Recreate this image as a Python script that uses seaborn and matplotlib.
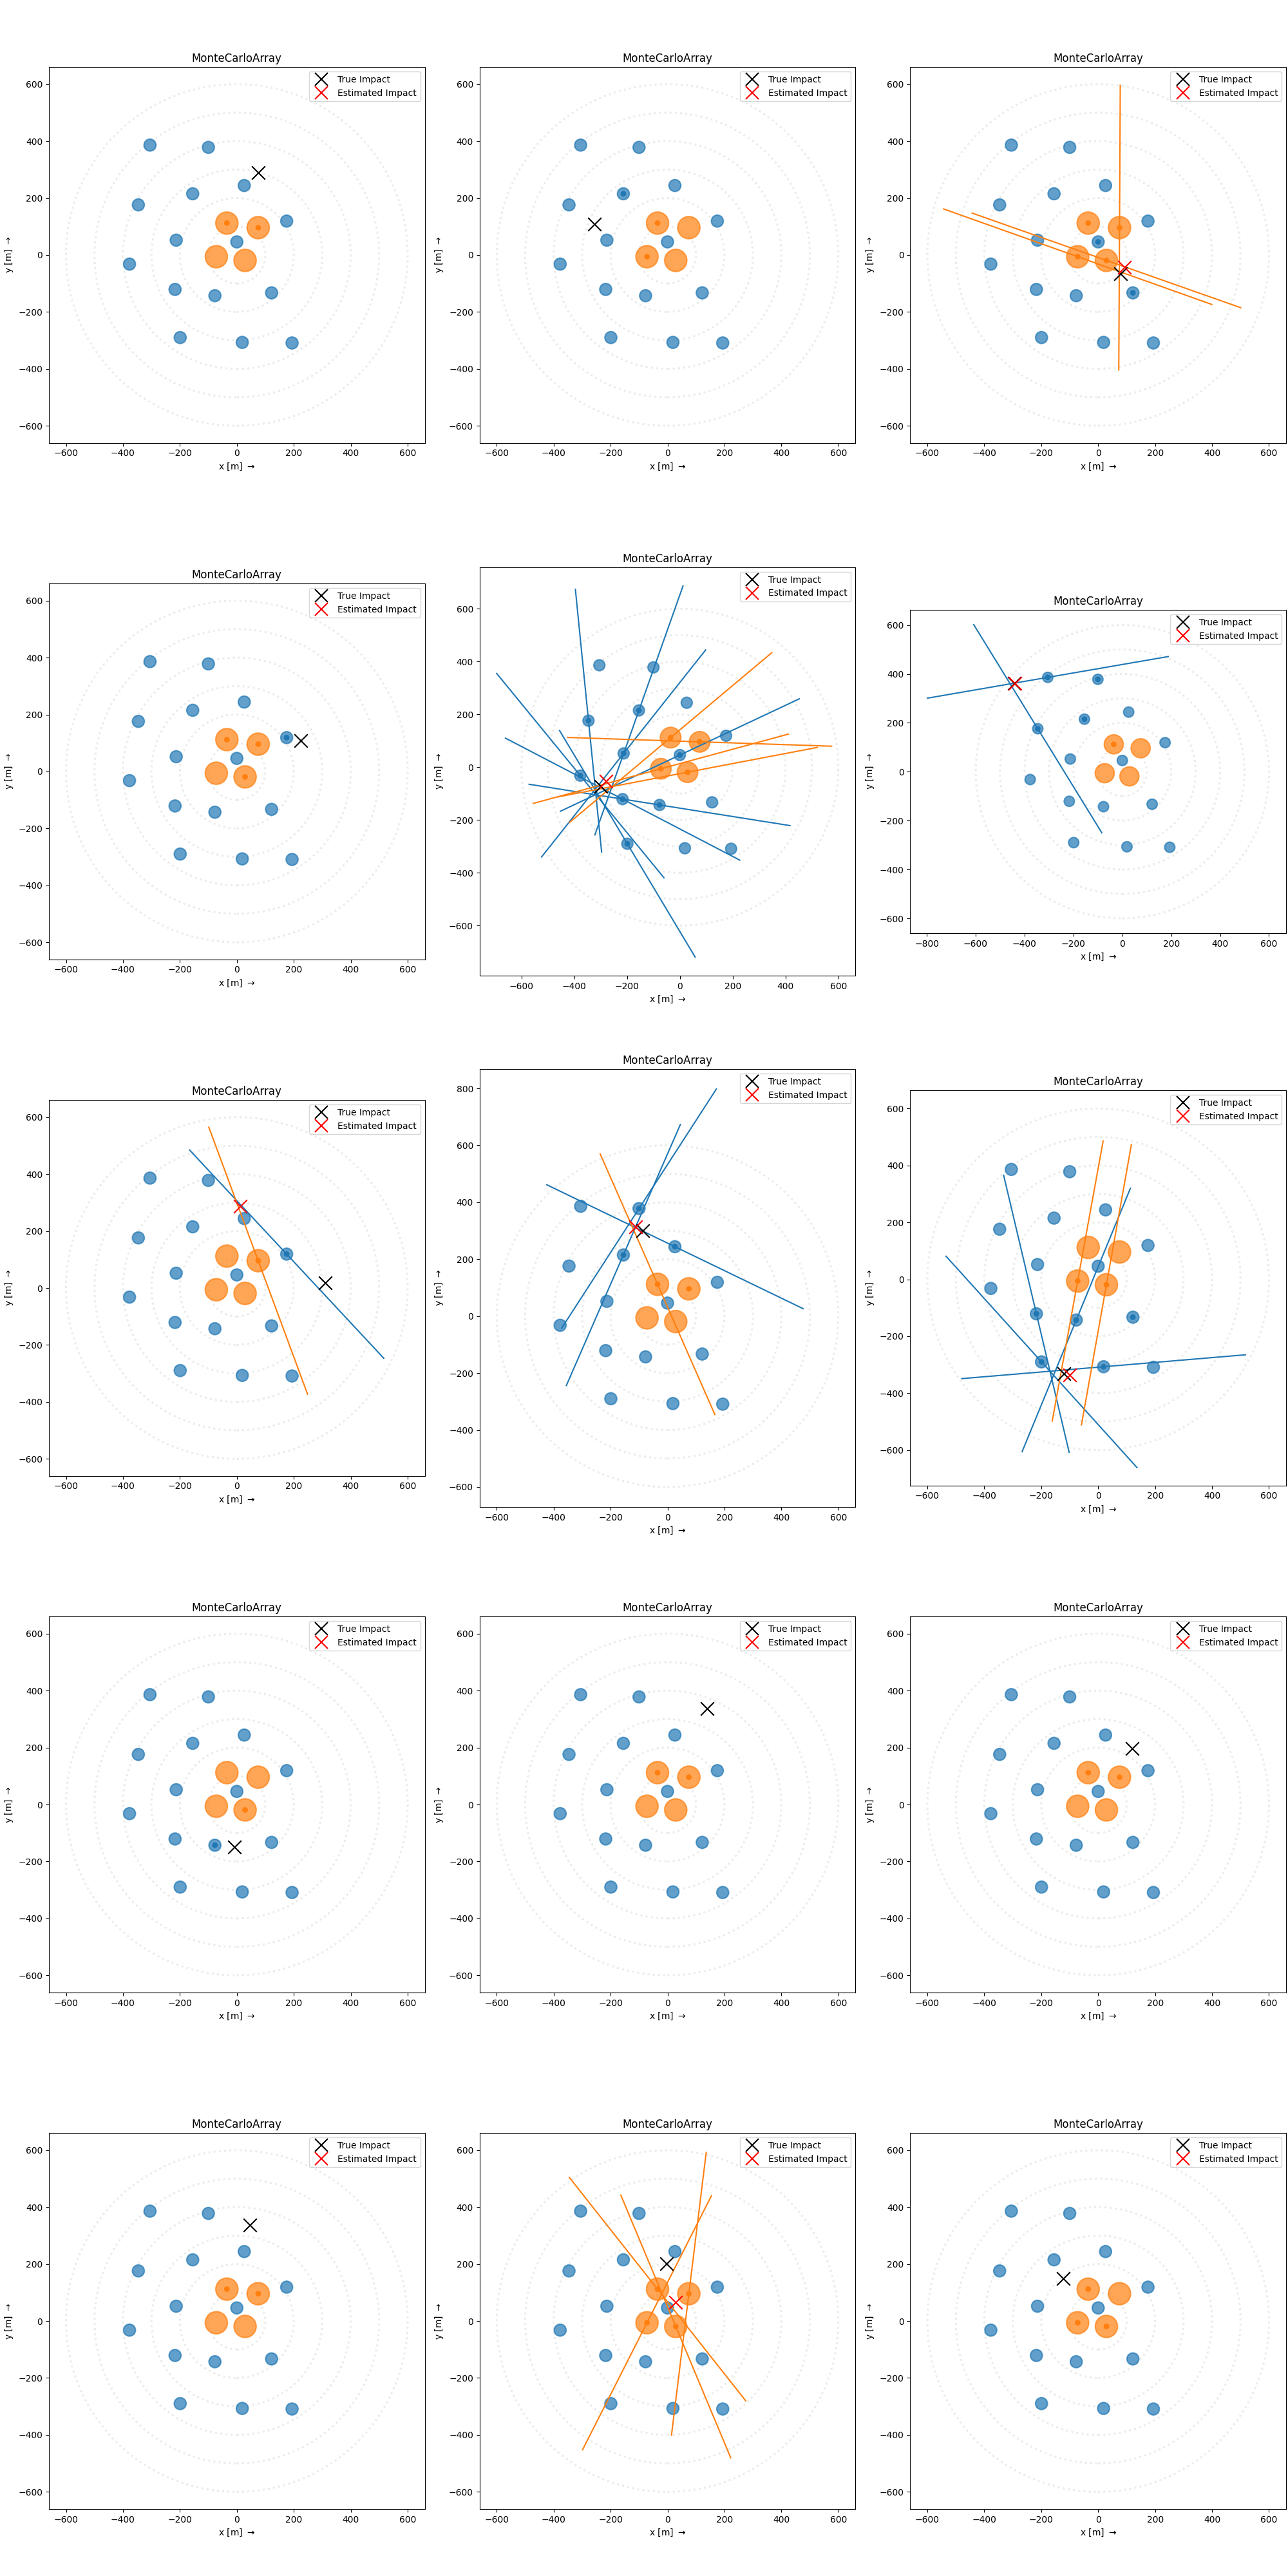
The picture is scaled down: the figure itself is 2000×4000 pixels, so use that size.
import numpy as np
import pandas as pd
import matplotlib
matplotlib.use("Agg")
import matplotlib.pyplot as plt
from matplotlib.patches import Circle
from matplotlib.lines import Line2D
import seaborn as sns

# telescope positions [m]: 15 small (blue) + 4 large (orange)
tel_x = [-305, -100, 26, -155, -346, 175, -213, 0, -377, -217, -77, 122, -199, 19, 194,
         -35, 75, -72, 29]
tel_y = [386, 378, 244, 215, 176, 119, 52, 46, -32, -121, -143, -133, -290, -307, -309,
         112, 96, -6, -19]
tel_kind = ["small"] * 15 + ["large"] * 4

# one entry per event / panel
true_x = [75, -256, 79, 225, -300, -442, 311, -87, -120, -8, 139, 120, 46, -3, -123]
true_y = [289, 109, -65, 108, -72, 361, 19, 301, -331, -150, 336, 196, 338, 201, 150]
est_x = [np.nan, np.nan, 93, np.nan, -280, -440, 12, -113, -101, np.nan, np.nan, np.nan,
         np.nan, 29, np.nan]
est_y = [np.nan, np.nan, -44, np.nan, -53, 362, 287, 314, -337, np.nan, np.nan, np.nan,
         np.nan, 66, np.nan]

# triggered telescopes (small dots)
dot_tels = [
    [15, 16],
    [3, 15, 17],
    [7, 11, 15, 16, 17, 18],
    [5, 15, 16, 18],
    [3, 4, 6, 7, 8, 9, 10, 12, 15, 16, 17, 18],
    [0, 1, 3, 4, 15],
    [5, 16],
    [1, 2, 3, 15, 16],
    [9, 10, 11, 12, 13, 17, 18],
    [10, 18],
    [15, 16],
    [15, 16],
    [15, 16],
    [15, 16, 17, 18],
    [15, 17, 18],
]

# hillas direction lines: telescope index and angle psi [deg]
line_tels = [
    [], [], [16, 17, 18], [],
    [4, 3, 6, 8, 9, 12, 10, 7, 16, 15, 17, 18],
    [0, 4],
    [5, 16],
    [2, 1, 3, 15],
    [9, 12, 10, 13, 17, 18],
    [], [], [], [],
    [15, 18, 16, 17],
    [],
]
line_psi = [
    [], [], [89.7, -19.6, -19.4], [],
    [-84.3, 70.5, 51.6, -50.7, -27.5, -59.1, -9.0, 25.2, -1.9, 40.0, 15.2, 10.8],
    [9.8, -58.4],
    [-47.0, -69.7],
    [-25.8, 57.1, 66.4, -66.25],
    [-76.7, -47.9, 67.65, 4.8, 79.7, 79.9],
    [], [], [], [],
    [-51.7, -67.3, 83.0, 63.1],
    [],
]

palette = {"small": "#1f77b4", "large": "#ff7f0e"}
radius = {"small": 21, "large": 39}
ring_radii = [100, 200, 300, 400, 500, 600]
half_len = 500

tels = pd.DataFrame({"x": tel_x, "y": tel_y, "kind": tel_kind})

fig, axes = plt.subplots(5, 3, figsize=(20, 40))
fig.subplots_adjust(left=0.038, right=0.9985, bottom=0.0115, top=0.9885,
                    wspace=0.146, hspace=0.146)

for i, ax in enumerate(axes.flat):
    for r in ring_radii:
        ax.add_patch(Circle((0, 0), r, fill=False, ls=":", lw=2.2, color="0.92"))
    for t in tels.itertuples():
        c = palette[t.kind]
        ax.add_patch(Circle((t.x, t.y), radius[t.kind], facecolor=c, edgecolor=c,
                            lw=1.5, alpha=0.7))

    if line_tels[i]:
        rows = []
        for k, (tid, psi) in enumerate(zip(line_tels[i], line_psi[i])):
            a = np.deg2rad(psi)
            for sgn in (-1, 1):
                rows.append({"x": tel_x[tid] + sgn * half_len * np.cos(a),
                             "y": tel_y[tid] + sgn * half_len * np.sin(a),
                             "seg": k, "kind": tel_kind[tid]})
        seg = pd.DataFrame(rows)
        sns.lineplot(data=seg, x="x", y="y", units="seg", estimator=None, sort=False,
                     hue="kind", palette=palette, lw=1.5, legend=False, ax=ax)

    trig = tels.iloc[dot_tels[i]]
    sns.scatterplot(data=trig, x="x", y="y", hue="kind", palette=palette, s=40,
                    linewidth=0, legend=False, ax=ax, zorder=3)

    sns.scatterplot(x=[true_x[i]], y=[true_y[i]], color="black", marker="x", s=220,
                    linewidth=1.5, ax=ax, zorder=4)
    if not np.isnan(est_x[i]):
        sns.scatterplot(x=[est_x[i]], y=[est_y[i]], color="red", marker="x", s=220,
                        linewidth=1.5, ax=ax, zorder=4)

    handles = [
        Line2D([], [], ls="none", marker="x", color="black", markersize=15, mew=1.5,
               label="True Impact"),
        Line2D([], [], ls="none", marker="x", color="red", markersize=15, mew=1.5,
               label="Estimated Impact"),
    ]
    ax.legend(handles=handles, loc="upper right")
    ax.set_title("MonteCarloArray")
    ax.set_xlabel("x [m] $\\rightarrow$")
    ax.set_ylabel("y [m] $\\rightarrow$")
    ax.set_aspect("equal")

fig.savefig("out.png", dpi=100)
